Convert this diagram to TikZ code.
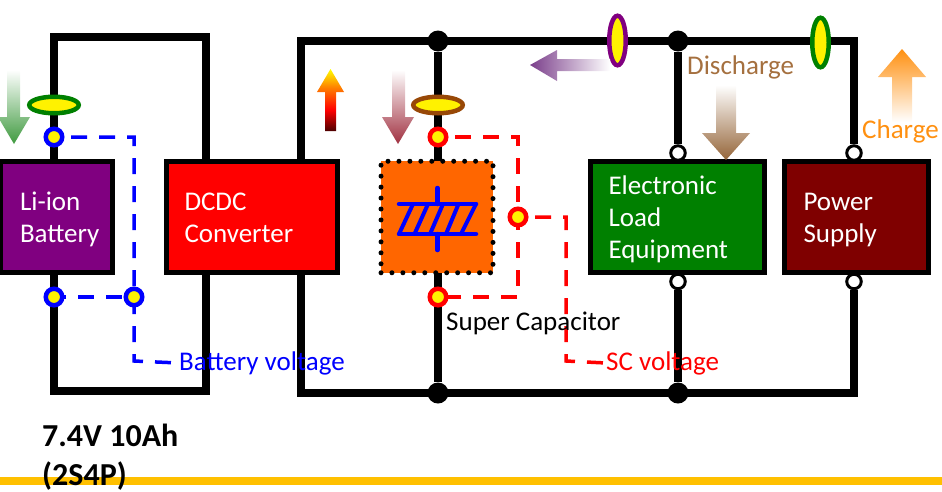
\documentclass[tikz,border=0pt]{standalone}
\usepackage{fontspec}
\setmainfont{Carlito}
\usetikzlibrary{calc,backgrounds,shapes.geometric}
\definecolor{boxpurple}{HTML}{800080}
\definecolor{boxgreen}{HTML}{008000}
\definecolor{boxmaroon}{HTML}{7F0000}
\definecolor{boxorange}{HTML}{FF6600}
\definecolor{railgold}{HTML}{FFC000}
\definecolor{clampbrown}{HTML}{984807}
\definecolor{textbrown}{HTML}{A5703F}
\definecolor{textorange}{HTML}{FF9010}
\definecolor{arrowgreen}{HTML}{3F9A3F}
\definecolor{arrowrose}{HTML}{A03040}
\definecolor{arrowpurple}{HTML}{7B3F8B}
\pgfdeclareverticalshading{heatshade}{100bp}{color(0bp)=(black!70!red); color(25bp)=(black!70!red); color(42bp)=(red); color(60bp)=(orange); color(75bp)=(yellow); color(100bp)=(yellow)}
\newcommand{\wirewidth}{8pt}
\newcommand{\boxline}{5pt}
\tikzset{
  wire/.style={line width=\wirewidth, black, line join=miter},
  dashblue/.style={line width=3.5pt, blue, dash pattern=on 16pt off 12pt},
  dashred/.style={line width=3.5pt, red, dash pattern=on 16pt off 12pt},
  block/.style={draw=black, line width=\boxline, text=white, align=left, inner ysep=0pt, minimum height=111pt, font=\fontsize{27}{32}\selectfont, execute at begin node={\rule{0pt}{26pt}}, execute at end node={\rule[-7pt]{0pt}{7pt}}},
  junction/.style={circle, fill=black, inner sep=0pt, minimum size=21pt},
  terminal/.style={circle, draw=black, fill=white, line width=3pt, inner sep=0pt, minimum size=14.5pt},
  probe/.style={circle, fill=yellow, line width=4.5pt, inner sep=0pt, minimum size=16.5pt},
  clamph/.style={ellipse, fill=yellow, line width=4.5pt, inner sep=0pt, minimum width=49.5pt, minimum height=16.5pt},
  clampv/.style={ellipse, fill=yellow, line width=4.5pt, inner sep=0pt, minimum width=16.5pt, minimum height=49.5pt},
  tag/.style={anchor=west, inner sep=0pt, font=\fontsize{27}{30}\selectfont},
  capline/.style={blue, line width=4.5pt, line cap=round},
  caphatch/.style={blue, line width=4pt, line cap=round},
}
\begin{document}
\begin{tikzpicture}[x=1pt,y=-1pt]
\useasboundingbox (0,0) rectangle (942,491);
%rail
\fill[railgold] (0,477) rectangle (942,485);
%boxes
\node[block, fill=boxpurple, minimum width=112pt, text width=73pt, inner xsep=19.5pt] (battery) at (56.5,217) {Li-ion\\Battery};
\node[block, fill=red, minimum width=171pt, text width=135pt, inner xsep=18pt] (dcdc) at (252,217) {DCDC\\Converter};
\node[block, fill=boxgreen, minimum width=174pt, text width=138pt, inner xsep=18pt] (load) at (677.5,217) {Electronic\\Load\\Equipment};
\node[block, fill=boxmaroon, minimum width=144pt, text width=106pt, inner xsep=19pt] (supply) at (856.5,217) {Power\\Supply};
\node[draw=black, fill=boxorange, line width=5pt, line cap=round, dash pattern=on 0pt off 10.95pt, inner sep=0pt, minimum width=112pt, minimum height=111.5pt] (sc) at (437,217) {};
%capacitor
\draw[capline] (399,204) -- (476,204);
\draw[capline] (399,234) -- (476,234);
\draw[capline] (437.5,188) -- (437.5,204);
\draw[capline] (437.5,234) -- (437.5,250);
\draw[caphatch] (399,234) -- (413,204);
\draw[caphatch] (414.5,234) -- (428,204);
\draw[caphatch] (430,234) -- (443,204);
\draw[caphatch] (446,234) -- (458.5,204);
\draw[caphatch] (461,234) -- (476,204);
%corners
\coordinate (lefttopa) at (54,37);
\coordinate (lefttopb) at (206,37);
\coordinate (leftbota) at (54,391);
\coordinate (leftbotb) at (206,391);
\coordinate (righttopa) at (301,41);
\coordinate (righttopb) at (854,41);
\coordinate (rightbota) at (301,393);
\coordinate (rightbotb) at (854,393);
\coordinate (battin) at (54,162);
\coordinate (battout) at (54,272);
\coordinate (dcdcina) at (206,162);
\coordinate (dcdcouta) at (206,272);
\coordinate (dcdcinb) at (301,162);
\coordinate (dcdcoutb) at (301,272);
\coordinate (scin) at (438,162);
\coordinate (scout) at (438,272);
%junctions
\node[junction] (jta) at (438,41) {};
\node[junction] (jtb) at (678,41) {};
\node[junction] (jba) at (438,393) {};
\node[junction] (jbb) at (678,393) {};
%terminals
\node[terminal] (loadtop) at (678,153) {};
\node[terminal] (loadbot) at (678,281.5) {};
\node[terminal] (supplytop) at (854,153) {};
\node[terminal] (supplybot) at (854,281.5) {};
%clamps
\node[clamph, draw=boxgreen] (clampbatt) at (54,105) {};
\node[clamph, draw=clampbrown] (clampsc) at (438,105) {};
\node[clampv, draw=boxpurple] (clampload) at (617.5,40.5) {};
\node[clampv, draw=boxgreen] (clampsupply) at (820.5,42.5) {};
%wires
\begin{scope}[on background layer]
\draw[wire] (battin) -- (lefttopa) -- (lefttopb) -- (dcdcina);
\draw[wire] (battout) -- (leftbota) -- (leftbotb) -- (dcdcouta);
\draw[wire] (dcdcinb) -- (righttopa) -- (righttopb) -- (supplytop);
\draw[wire] (dcdcoutb) -- (rightbota) -- (rightbotb) -- (supplybot);
\draw[wire] (jta) -- (scin);
\draw[wire] (scout) -- (jba);
\draw[wire] (jtb) -- (loadtop);
\draw[wire] (loadbot) -- (jbb);
\end{scope}
%probes
\coordinate (blueca) at (134,137);
\coordinate (bluecb) at (134,361);
\coordinate (redca) at (518,137);
\coordinate (redcb) at (518,297);
\coordinate (redcc) at (566,217);
\coordinate (redcd) at (566,361);
\node[probe, draw=blue] (vbatttop) at (54,137) {};
\node[probe, draw=blue] (vbattbot) at (54,297) {};
\node[probe, draw=blue] (vbattmid) at (134,297) {};
\node[probe, draw=red] (vsctop) at (438,137) {};
\node[probe, draw=red] (vscbot) at (438,297) {};
\node[probe, draw=red] (vscmid) at (518,217) {};
%labels
\node[tag, blue] (battvolt) at (179,363) {Battery voltage};
\node[tag, red] (scvolt) at (606,363) {SC voltage};
\node[tag] (sclabel) at (446,323) {Super Capacitor};
\node[tag, textbrown] (dischargelabel) at (687,67) {Discharge};
\node[tag, textorange] (chargelabel) at (862,131) {Charge};
\node[anchor=north west, inner sep=0pt, align=left, font=\fontsize{32}{39}\selectfont\bfseries] (rating) at (42,424) {7.4V 10Ah\\(2S4P)};
%dashes
\begin{scope}[on background layer]
\draw[dashblue, dash phase=11pt] (vbatttop.center) -- (blueca) -- (vbattmid.center) -- (bluecb) -- (battvolt.west);
\draw[dashblue, dash phase=4pt] (vbattbot.center) -- (vbattmid.center);
\draw[dashred, dash phase=11pt] (vsctop.center) -- (redca) -- (vscmid.center) -- (redcb) -- (vscbot.center);
\draw[dashred, dash phase=11pt] (vscmid.center) -- (redcc) -- (redcd) -- (scvolt.west);
\end{scope}
%arrows
\shade[top color=white, bottom color=arrowgreen] (7,70) -- (20,70) -- (20,117) -- (30,117) -- (14,144) -- (-2,117) -- (7,117) -- cycle;
\shade[shading=heatshade] (325,131) -- (336,131) -- (336,92) -- (344,92) -- (330.5,69) -- (317,92) -- (325,92) -- cycle;
\shade[top color=white, bottom color=arrowrose] (392,70) -- (405,70) -- (405,117) -- (414,117) -- (398,144) -- (382,117) -- (392,117) -- cycle;
\shade[left color=arrowpurple, right color=white] (610,59) -- (557,59) -- (557,50) -- (530,65) -- (557,81) -- (557,71) -- (610,71) -- cycle;
\shade[top color=white, bottom color=textbrown!90!black] (716,85) -- (736,85) -- (736,133) -- (750,133) -- (726,160) -- (702,133) -- (716,133) -- cycle;
\shade[top color=textorange, bottom color=white] (892,122) -- (912,122) -- (912,77) -- (926,77) -- (902,49) -- (878,77) -- (892,77) -- cycle;
\end{tikzpicture}
\end{document}
